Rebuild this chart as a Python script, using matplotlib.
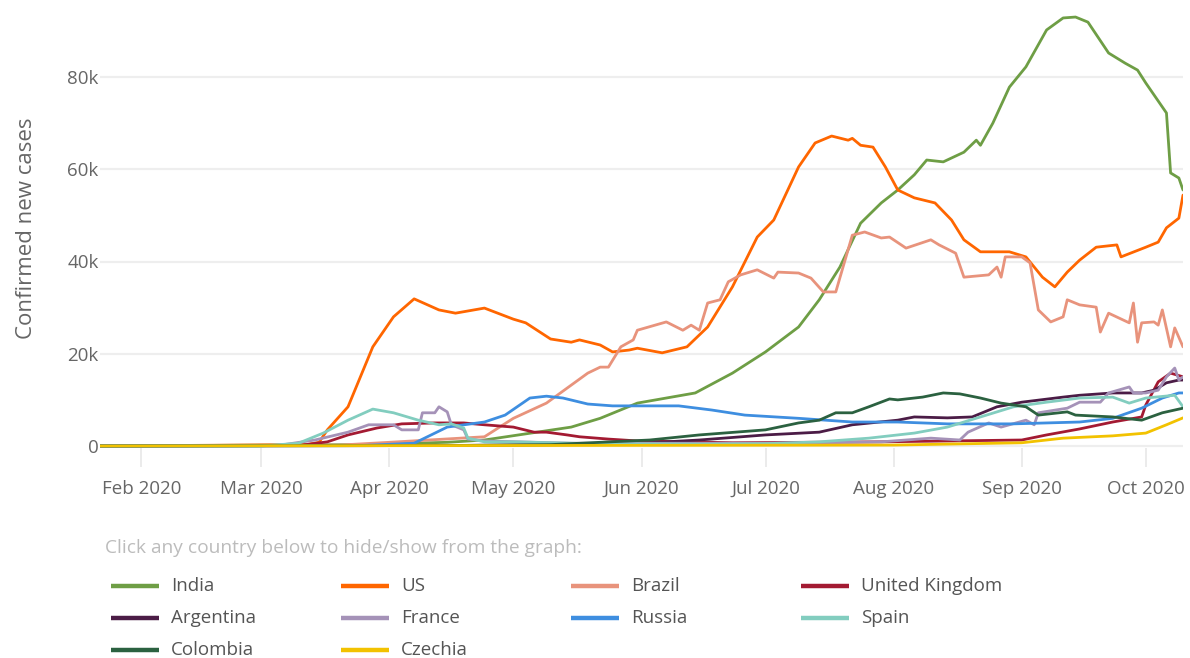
import matplotlib
matplotlib.use("Agg")
import matplotlib.pyplot as plt
import matplotlib.dates as mdates
from matplotlib.lines import Line2D
from matplotlib.ticker import FuncFormatter
import numpy as np
from datetime import datetime

plt.rcParams['font.family'] = ['Open Sans', 'DejaVu Sans']

# ---------------- data (values in thousands of new cases, 7-day average) ----------------
india_dates = ["2020-01-22", "2020-03-25", "2020-04-15", "2020-04-24", "2020-05-15", "2020-05-22", "2020-05-31",
               "2020-06-14", "2020-06-23", "2020-07-01", "2020-07-09", "2020-07-14", "2020-07-19", "2020-07-24",
               "2020-07-29", "2020-08-02", "2020-08-06", "2020-08-09", "2020-08-13", "2020-08-18", "2020-08-21",
               "2020-08-22", "2020-08-25", "2020-08-29", "2020-09-02", "2020-09-07", "2020-09-11", "2020-09-14",
               "2020-09-17", "2020-09-22", "2020-09-26", "2020-09-29", "2020-10-01", "2020-10-06", "2020-10-07",
               "2020-10-09", "2020-10-10"]
india_vals = [0, 0.3, 0.8, 1.3, 4.1, 6.0, 9.3,
              11.5, 15.8, 20.4, 25.8, 31.7, 38.8, 48.3,
              52.7, 55.5, 58.8, 62.0, 61.6, 63.7, 66.3,
              65.2, 70.0, 77.8, 82.2, 90.2, 92.8, 93.0,
              91.9, 85.2, 83.0, 81.5, 78.7, 72.2, 59.2,
              58.1, 55.5]

us_dates = ["2020-01-22", "2020-03-12", "2020-03-15", "2020-03-17", "2020-03-22", "2020-03-28", "2020-04-02",
            "2020-04-07", "2020-04-13", "2020-04-17", "2020-04-24", "2020-05-01", "2020-05-04", "2020-05-10",
            "2020-05-15", "2020-05-17", "2020-05-22", "2020-05-25", "2020-05-29", "2020-05-31", "2020-06-06",
            "2020-06-12", "2020-06-17", "2020-06-23", "2020-06-29", "2020-07-03", "2020-07-09", "2020-07-13",
            "2020-07-17", "2020-07-21", "2020-07-22", "2020-07-24", "2020-07-27", "2020-07-30", "2020-08-02",
            "2020-08-06", "2020-08-11", "2020-08-15", "2020-08-18", "2020-08-22", "2020-08-29", "2020-09-02",
            "2020-09-06", "2020-09-09", "2020-09-12", "2020-09-15", "2020-09-19", "2020-09-24", "2020-09-25",
            "2020-10-01", "2020-10-04", "2020-10-06", "2020-10-09", "2020-10-10"]
us_vals = [0, 0.3, 0.8, 3.5, 8.5, 21.5, 28.0,
           31.9, 29.5, 28.8, 29.9, 27.5, 26.7, 23.2,
           22.5, 23.0, 21.9, 20.4, 20.8, 21.2, 20.2,
           21.5, 25.8, 34.5, 45.3, 49.0, 60.5, 65.7,
           67.2, 66.3, 66.7, 65.2, 64.8, 60.5, 55.5,
           53.8, 52.7, 49.0, 44.7, 42.1, 42.1, 41.0,
           36.6, 34.5, 37.7, 40.3, 43.1, 43.6, 41.0,
           43.1, 44.2, 47.3, 49.4, 54.4]

brazil_dates = ["2020-01-22", "2020-03-20", "2020-04-01", "2020-04-24", "2020-05-01", "2020-05-09", "2020-05-19",
                "2020-05-22", "2020-05-24", "2020-05-27", "2020-05-30", "2020-05-31", "2020-06-07", "2020-06-11",
                "2020-06-13", "2020-06-15", "2020-06-17", "2020-06-20", "2020-06-22", "2020-06-25", "2020-06-29",
                "2020-07-03", "2020-07-04", "2020-07-09", "2020-07-12", "2020-07-15", "2020-07-18", "2020-07-22",
                "2020-07-25", "2020-07-29", "2020-07-31", "2020-08-04", "2020-08-10", "2020-08-12", "2020-08-16",
                "2020-08-18", "2020-08-24", "2020-08-26", "2020-08-27", "2020-08-28", "2020-09-01", "2020-09-03",
                "2020-09-05", "2020-09-08", "2020-09-11", "2020-09-12", "2020-09-15", "2020-09-19", "2020-09-20",
                "2020-09-22", "2020-09-27", "2020-09-28", "2020-09-29", "2020-09-30", "2020-10-03", "2020-10-04",
                "2020-10-05", "2020-10-07", "2020-10-08", "2020-10-10"]
brazil_vals = [0, 0.2, 0.8, 2.0, 6.0, 9.3, 15.8,
               17.1, 17.1, 21.5, 23.0, 25.1, 26.9, 25.1,
               26.2, 25.1, 31.0, 31.7, 35.6, 37.1, 38.2,
               36.4, 37.7, 37.5, 36.4, 33.4, 33.4, 45.7,
               46.4, 45.1, 45.3, 42.9, 44.7, 43.6, 41.8,
               36.6, 37.1, 38.8, 36.6, 41.0, 41.0, 39.7,
               29.5, 26.9, 28.0, 31.7, 30.6, 30.1, 24.7,
               28.8, 26.7, 31.0, 22.5, 26.7, 26.9, 26.2,
               29.5, 21.5, 25.6, 21.5]

uk_dates = ["2020-01-22", "2020-03-10", "2020-03-17", "2020-03-22", "2020-03-29", "2020-04-04", "2020-04-12",
            "2020-04-19", "2020-04-24", "2020-05-01", "2020-05-06", "2020-05-09", "2020-05-14", "2020-05-17",
            "2020-05-24", "2020-05-31", "2020-06-23", "2020-07-29", "2020-09-01", "2020-09-07", "2020-09-15",
            "2020-09-23", "2020-09-30", "2020-10-01", "2020-10-04", "2020-10-07", "2020-10-10"]
uk_vals = [0, 0.1, 0.9, 2.4, 3.9, 4.8, 5.0,
           5.0, 4.6, 4.1, 3.0, 3.0, 2.4, 2.0,
           1.5, 1.1, 0.7, 0.9, 1.3, 2.4, 3.7,
           5.2, 6.3, 8.9, 13.9, 15.8, 15.0]

argentina_dates = ["2020-01-22", "2020-04-15", "2020-05-15", "2020-06-01", "2020-06-15", "2020-07-01", "2020-07-14",
                   "2020-07-22", "2020-08-02", "2020-08-06", "2020-08-14", "2020-08-20", "2020-08-26", "2020-09-01",
                   "2020-09-11", "2020-09-15", "2020-09-23", "2020-09-30", "2020-10-03", "2020-10-06", "2020-10-09",
                   "2020-10-10"]
argentina_vals = [0, 0.1, 0.3, 0.6, 1.3, 2.4, 3.0,
                  4.6, 5.6, 6.3, 6.1, 6.3, 8.5, 9.5,
                  10.6, 11.0, 11.5, 11.5, 12.1, 13.7, 14.3,
                  14.3]

france_dates = ["2020-01-22", "2020-03-05", "2020-03-14", "2020-03-22", "2020-03-27", "2020-04-02", "2020-04-04",
                "2020-04-08", "2020-04-09", "2020-04-12", "2020-04-13", "2020-04-15", "2020-04-16", "2020-04-19",
                "2020-04-20", "2020-04-24", "2020-05-15", "2020-07-01", "2020-07-29", "2020-08-10", "2020-08-17",
                "2020-08-19", "2020-08-24", "2020-08-27", "2020-09-02", "2020-09-04", "2020-09-05", "2020-09-12",
                "2020-09-15", "2020-09-20", "2020-09-22", "2020-09-27", "2020-09-28", "2020-10-01", "2020-10-04",
                "2020-10-06", "2020-10-08", "2020-10-09", "2020-10-10"]
france_vals = [0, 0.1, 1.3, 3.0, 4.6, 4.6, 3.5,
               3.5, 7.2, 7.2, 8.5, 7.4, 4.6, 3.5,
               1.5, 1.1, 0.6, 0.6, 0.9, 1.7, 1.3,
               3.0, 5.0, 4.1, 5.6, 4.6, 7.2, 8.2,
               9.5, 9.5, 11.5, 12.8, 11.5, 11.5, 12.1,
               15.0, 16.9, 14.3, 15.0]

russia_dates = ["2020-01-22", "2020-03-25", "2020-04-07", "2020-04-15", "2020-04-24", "2020-04-29", "2020-05-05",
                "2020-05-09", "2020-05-13", "2020-05-19", "2020-05-25", "2020-06-10", "2020-06-18", "2020-06-26",
                "2020-07-09", "2020-07-22", "2020-08-02", "2020-08-14", "2020-08-30", "2020-09-15", "2020-09-23",
                "2020-09-30", "2020-10-05", "2020-10-09", "2020-10-10"]
russia_vals = [0, 0.1, 0.6, 4.1, 5.2, 6.7, 10.4,
               10.8, 10.4, 9.1, 8.7, 8.7, 7.8, 6.7,
               6.0, 5.2, 5.2, 4.8, 4.8, 5.2, 6.0,
               8.2, 10.4, 11.5, 11.5]

spain_dates = ["2020-01-22", "2020-03-01", "2020-03-10", "2020-03-16", "2020-03-22", "2020-03-28", "2020-04-02",
               "2020-04-08", "2020-04-13", "2020-04-16", "2020-04-19", "2020-04-20", "2020-04-24", "2020-05-01",
               "2020-05-20", "2020-06-15", "2020-07-01", "2020-07-14", "2020-07-26", "2020-07-29", "2020-08-06",
               "2020-08-14", "2020-08-22", "2020-08-30", "2020-09-07", "2020-09-15", "2020-09-23", "2020-09-27",
               "2020-10-01", "2020-10-08", "2020-10-10"]
spain_vals = [0, 0.0, 0.6, 2.8, 5.6, 8.0, 7.2,
              5.6, 4.6, 4.8, 3.9, 1.7, 0.9, 0.9,
              0.5, 0.4, 0.5, 0.9, 1.7, 2.0, 2.8,
              4.1, 6.3, 8.5, 9.5, 10.4, 10.6, 9.3,
              10.4, 11.0, 8.5]

colombia_dates = ["2020-01-22", "2020-04-15", "2020-05-10", "2020-06-03", "2020-06-15", "2020-07-01", "2020-07-09",
                  "2020-07-14", "2020-07-18", "2020-07-22", "2020-07-26", "2020-07-31", "2020-08-02", "2020-08-08",
                  "2020-08-13", "2020-08-17", "2020-08-22", "2020-08-27", "2020-09-02", "2020-09-05", "2020-09-12",
                  "2020-09-14", "2020-09-23", "2020-09-30", "2020-10-05", "2020-10-10"]
colombia_vals = [0, 0.1, 0.3, 1.3, 2.4, 3.5, 5.0,
                 5.6, 7.2, 7.2, 8.5, 10.2, 10.0, 10.6,
                 11.5, 11.3, 10.4, 9.3, 8.5, 6.7, 7.4,
                 6.7, 6.3, 5.6, 7.2, 8.2]

czechia_dates = ["2020-01-22", "2020-08-01", "2020-09-01", "2020-09-11", "2020-09-23", "2020-10-01", "2020-10-06",
                 "2020-10-10"]
czechia_vals = [0, 0.2, 0.7, 1.7, 2.2, 2.8, 4.6, 6.1]

countries = ["India", "US", "Brazil", "United Kingdom", "Argentina", "France", "Russia", "Spain",
             "Colombia", "Czechia"]
colors = ["#6e9e45", "#ff6600", "#e8937c", "#a31a32", "#4b1c46", "#a592b8", "#3e8ee0", "#82cdbf",
          "#2b6140", "#f2c200"]
series_dates = [india_dates, us_dates, brazil_dates, uk_dates, argentina_dates, france_dates,
                russia_dates, spain_dates, colombia_dates, czechia_dates]
series_vals = [india_vals, us_vals, brazil_vals, uk_vals, argentina_vals, france_vals,
               russia_vals, spain_vals, colombia_vals, czechia_vals]

month_ticks = ["2020-02-01", "2020-03-01", "2020-04-01", "2020-05-01", "2020-06-01", "2020-07-01",
               "2020-08-01", "2020-09-01", "2020-10-01"]
y_ticks = [0, 20000, 40000, 60000, 80000]

# ---------------- figure ----------------
W, H = 1190, 658
fig = plt.figure(figsize=(W / 100, H / 100), dpi=100)
fig.patch.set_facecolor("white")

px_per_k = 369 / 80.0
y0 = 446.0
ymin, ymax = -0.5, 95.0
ax_top = y0 - ymax * px_per_k
ax_bot = y0 - ymin * px_per_k
ax_left, ax_right = 100.0, 1183.0
ax = fig.add_axes([ax_left / W, 1 - ax_bot / H, (ax_right - ax_left) / W, (ax_bot - ax_top) / H])

for name, col, d, v in zip(countries, colors, series_dates, series_vals):
    xs = [datetime.strptime(s, "%Y-%m-%d") for s in d]
    ys = np.array(v) * 1000
    ax.plot(xs, ys, color=col, lw=2.0, solid_joinstyle="round", solid_capstyle="round", zorder=3)

ax.set_xlim(datetime(2020, 1, 22), datetime(2020, 10, 10))
ax.set_ylim(ymin * 1000, ymax * 1000)

ax.set_yticks(y_ticks)
ax.yaxis.set_major_formatter(FuncFormatter(lambda val, pos: "0" if val == 0 else f"{int(val/1000)}k"))
ax.set_xticks([datetime.strptime(s, "%Y-%m-%d") for s in month_ticks])
ax.xaxis.set_major_formatter(mdates.DateFormatter("%b %Y"))

for sp in ax.spines.values():
    sp.set_visible(False)
ax.grid(axis="y", color="#eeeeee", lw=1.6, zorder=0)
ax.tick_params(axis="y", length=0, pad=1, labelsize=13.5, labelcolor="#666666")
ax.tick_params(axis="x", direction="out", length=14, width=1.2, color="#e8e8e8", pad=9,
               labelsize=13.5, labelcolor="#666666")
ax.set_ylabel("Confirmed new cases", fontsize=16, color="#666666", labelpad=22)

# ---------------- legend (custom layout) ----------------
fig.text(105 / W, 1 - 548 / H, "Click any country below to hide/show from the graph:",
         fontsize=13.8, color="#bcbcbc", va="center", ha="left")
col_x = [111, 341, 571, 801]
row_y = [586, 618, 650]
for i, (name, col) in enumerate(zip(countries, colors)):
    r, c = divmod(i, 4)
    x0 = col_x[c]
    yy = 1 - row_y[r] / H
    fig.add_artist(Line2D([x0 / W, (x0 + 48) / W], [yy, yy], color=col, lw=3.2, solid_capstyle="butt"))
    fig.text((x0 + 60) / W, yy, name, fontsize=13.5, color="#555555", va="center", ha="left")

fig.savefig("out.png", dpi=100, facecolor="white")
